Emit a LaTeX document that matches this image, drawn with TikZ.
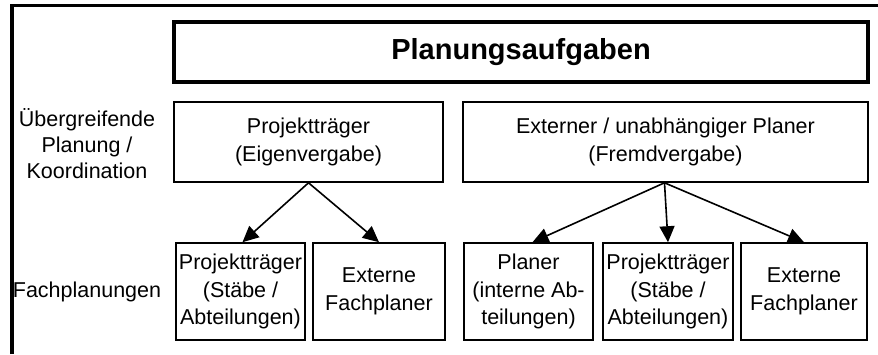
\documentclass[tikz,border=0pt]{standalone}
\usepackage{fontspec}
\setmainfont{Liberation Sans}
\usetikzlibrary{arrows.meta}
\begin{document}
\begin{tikzpicture}[x=1pt,y=-1pt,
  txt/.style={font=\fontsize{21.5}{27.5}\selectfont, align=center, inner sep=0pt},
  box/.style={txt, draw, line width=1.6pt, rectangle},
  titlebox/.style={draw, line width=3.5pt, rectangle, inner sep=0pt,
    font=\fontsize{29}{32}\selectfont\bfseries},
  frame/.style={line width=3.5pt},
  link/.style={line width=1.6pt, -{Triangle[length=16pt,width=15pt]}}]
  \useasboundingbox (0,0) rectangle (878,354);

  % open frame: top and left edges
  \coordinate (fl) at (12,354);
  \coordinate (fc) at (12,5.5);
  \coordinate (fr) at (878,5.5);
  \draw[frame] (fl) -- (fc) -- (fr);

  % heading
  \node[titlebox, minimum width=694pt, minimum height=60pt] (title) at (521,52) {Planungsaufgaben};

  % row labels
  \node[txt, font=\fontsize{21.5}{26}\selectfont] (lab1) at (87,144) {Übergreifende\\Planung /\\Koordination};
  \node[txt] (lab2) at (87,292) {Fachplanungen};

  % coordinating level
  \node[box, minimum width=269pt, minimum height=80pt] (own) at (308.5,142) {Projektträger\\(Eigenvergabe)};
  \node[box, minimum width=405pt, minimum height=80pt] (ext) at (665.5,142) {Externer / unabhängiger Planer\\(Fremdvergabe)};

  % specialist planning level
  \node[box, minimum width=129pt, minimum height=97pt] (b1) at (240.5,291.5) {Projektträger\\(Stäbe /\\Abteilungen)};
  \node[box, minimum width=132pt, minimum height=97pt] (b2) at (379,291.5) {Externe\\Fachplaner};
  \node[box, minimum width=129pt, minimum height=97pt] (b3) at (528.5,291.5) {Planer\\(interne Ab-\\teilungen)};
  \node[box, minimum width=130pt, minimum height=97pt] (b4) at (668,291.5) {Projektträger\\(Stäbe /\\Abteilungen)};
  \node[box, minimum width=126pt, minimum height=97pt] (b5) at (804,291.5) {Externe\\Fachplaner};

  % assignments
  \draw[link] (own.south) -- ([xshift=2pt]b1.north);
  \draw[link] (own.south) -- (b2.north);
  \draw[link] ([xshift=-1pt]ext.south) -- ([xshift=4pt]b3.north);
  \draw[link] ([xshift=-1pt]ext.south) -- (b4.north);
  \draw[link] ([xshift=-1pt]ext.south) -- (b5.north);
\end{tikzpicture}
\end{document}
